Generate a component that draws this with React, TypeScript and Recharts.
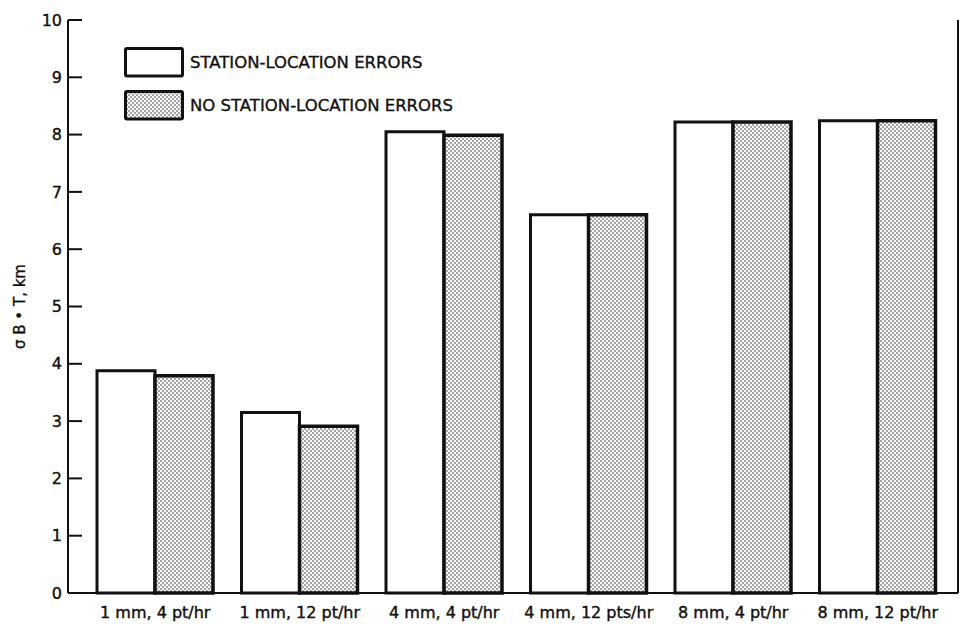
import React from "react";
import {
  BarChart,
  Bar,
  XAxis,
  YAxis,
  Legend,
} from "recharts";

const categories = [
  "1 mm, 4 pt/hr",
  "1 mm, 12 pt/hr",
  "4 mm, 4 pt/hr",
  "4 mm, 12 pts/hr",
  "8 mm, 4 pt/hr",
  "8 mm, 12 pt/hr",
];
const withErrors = [3.88, 3.15, 8.05, 6.6, 8.22, 8.24];
const withoutErrors = [3.79, 2.91, 7.99, 6.6, 8.22, 8.24];
const yTicks = [0, 1, 2, 3, 4, 5, 6, 7, 8, 9, 10];

const FONT = '"DejaVu Sans", sans-serif';
const INK = "#111";

const data = categories.map((name, i) => ({
  name,
  with: withErrors[i],
  without: withoutErrors[i],
}));

// left axis: label + inward tick mark
const LeftTick = (props: any) => {
  const { x, y, payload } = props;
  return (
    <g>
      {payload.value !== 0 && (
        <line x1={x + 6} x2={x + 20} y1={y} y2={y} stroke={INK} strokeWidth={2} />
      )}
      <text
        x={x}
        y={y}
        dy="0.35em"
        textAnchor="end"
        fontSize={16}
        fontFamily={FONT}
        fill={INK}
        stroke={INK}
        strokeWidth={0.4}
      >
        {payload.value}
      </text>
    </g>
  );
};

// right axis: inward tick mark only
const RightTick = (props: any) => {
  const { x, y, payload } = props;
  if (payload.value === 0 || payload.value === 10) return <g />;
  return <line x1={x - 11} x2={x} y1={y} y2={y} stroke={INK} strokeWidth={2} />;
};

const YLabel = (props: any) => {
  const { viewBox } = props;
  const cx = viewBox.x + 20;
  const cy = viewBox.y + viewBox.height / 2;
  return (
    <text
      x={cx}
      y={cy}
      transform={`rotate(-90 ${cx} ${cy})`}
      textAnchor="middle"
      dominantBaseline="central"
      fontSize={15}
      fontFamily={FONT}
      fill={INK}
      stroke={INK}
      strokeWidth={0.35}
    >
      σ B • T, km
    </text>
  );
};

const renderLegend = (props: any) => {
  const { payload } = props;
  return (
    <div style={{ fontFamily: FONT }}>
      {payload.map((entry: any, i: number) => (
        <div
          key={i}
          style={{
            display: "flex",
            alignItems: "center",
            height: 30,
            marginBottom: 13,
          }}
        >
          <svg width={60} height={31} style={{ display: "block" }}>
            <rect
              x={1.5}
              y={1.5}
              width={57}
              height={27.5}
              rx={1.5}
              fill={entry.dataKey === "without" ? "url(#dots)" : "#fff"}
              stroke={INK}
              strokeWidth={3}
            />
          </svg>
          <span
            style={{
              marginLeft: 6,
              fontSize: 16.5,
              color: INK,
              WebkitTextStroke: "0.35px #111",
            }}
          >
            {entry.value}
          </span>
        </div>
      ))}
    </div>
  );
};

export default function App() {
  return (
    <div style={{ position: "absolute", left: 0, top: 0, background: "#fff" }}>
      <svg width={0} height={0} style={{ position: "absolute" }}>
        <defs>
          <pattern id="dots" width={4} height={4} patternUnits="userSpaceOnUse">
            <rect width={4} height={4} fill="#f7f7f7" />
            <circle cx={1} cy={1} r={0.78} fill="#2a2a2a" />
            <circle cx={3} cy={3} r={0.78} fill="#2a2a2a" />
          </pattern>
        </defs>
      </svg>
      <BarChart
        width={962}
        height={629}
        data={data}
        margin={{ top: 20, right: 0, bottom: 0, left: 0 }}
        barCategoryGap={14}
        barGap={0}
      >
        <XAxis
          dataKey="name"
          height={36}
          padding={{ left: 15, right: 8 }}
          interval={0}
          tickLine={false}
          tickSize={0}
          tickMargin={14}
          axisLine={{ stroke: INK, strokeWidth: 2 }}
          tick={{ fontSize: 16, fill: INK, fontFamily: FONT, stroke: INK, strokeWidth: 0.4 }}
        />
        <XAxis
          xAxisId="top"
          dataKey="name"
          orientation="top"
          height={0}
          tick={false}
          tickLine={false}
          axisLine={{ stroke: INK, strokeWidth: 2 }}
        />
        <YAxis
          yAxisId="left"
          width={68}
          domain={[0, 10]}
          ticks={yTicks}
          interval={0}
          tickLine={false}
          tickSize={0}
          tickMargin={6}
          axisLine={{ stroke: INK, strokeWidth: 2 }}
          tick={<LeftTick />}
          label={<YLabel />}
        />
        <YAxis
          yAxisId="right"
          orientation="right"
          width={4}
          domain={[0, 10]}
          ticks={yTicks}
          interval={0}
          tickLine={false}
          tickSize={0}
          tickMargin={0}
          axisLine={{ stroke: INK, strokeWidth: 2 }}
          tick={<RightTick />}
        />
        <Legend
          layout="vertical"
          align="center"
          verticalAlign="middle"
          itemSorter="dataKey"
          content={renderLegend}
          wrapperStyle={{ left: 124, top: 47, width: "auto" }}
        />
        <Bar
          yAxisId="left"
          dataKey="with"
          name="STATION-LOCATION ERRORS"
          fill="#fff"
          stroke={INK}
          strokeWidth={3}
          isAnimationActive={false}
        />
        <Bar
          yAxisId="left"
          dataKey="without"
          name="NO STATION-LOCATION ERRORS"
          fill="url(#dots)"
          stroke={INK}
          strokeWidth={3.5}
          isAnimationActive={false}
        />
      </BarChart>
    </div>
  );
}
